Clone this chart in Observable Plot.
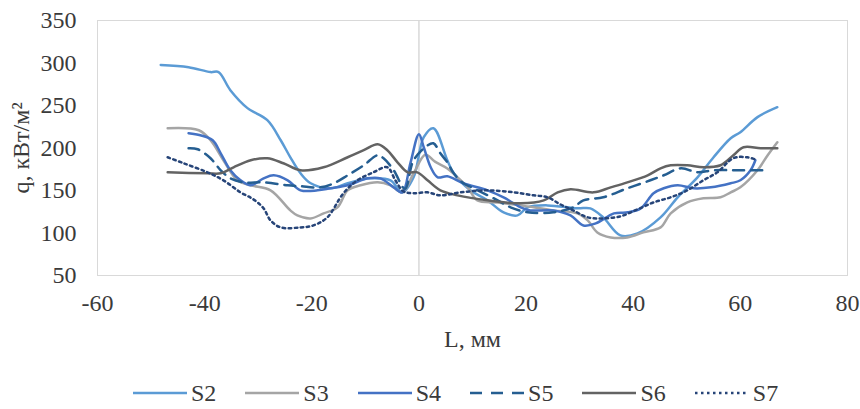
<!DOCTYPE html>
<html>
<head>
<meta charset="utf-8">
<script src="https://cdn.jsdelivr.net/npm/d3@7"></script>
<script src="https://cdn.jsdelivr.net/npm/@observablehq/plot@0.6"></script>
<style>
  body { margin: 0; background: #fff; font-family: "Liberation Serif", "Times New Roman", serif; }
  #legend { height: 49px; box-sizing: border-box; padding-top: 17px; padding-left: 133px; display: flex; align-items: center; font-size: 24px; color: #3a3a3a; }
  #legend .item { display: flex; align-items: center; margin-right: 29px; }
  #legend svg { margin-right: 4px; }
</style>
</head>
<body>
<div id="chart"></div>
<div id="legend"></div>
<script>
const xTicks = [-60, -40, -20, 0, 20, 40, 60, 80];
const yTicks = [50, 100, 150, 200, 250, 300, 350];
const seriesNames = ["S2", "S3", "S4", "S5", "S6", "S7"];
const seriesColors = ["#5B9BD5", "#A5A5A5", "#4472C4", "#255E91", "#636363", "#264478"];
const seriesDash = [null, null, null, "11,7", null, "2.5,3.5"];

const S2_L = [-48.2, -43.0, -38.9, -37.4, -35.2, -32.0, -28.3, -25.8, -24.0, -22.1, -20.2, -16.5, -13.3, -9.0, -5.3, -3.1, -1.0, 0.9, 2.7, 5.3, 6.5, 9.6, 12.8, 15.8, 18.4, 20.3, 24.0, 29.6, 32.0, 34.4, 37.6, 40.8, 45.1, 48.3, 52.0, 55.0, 58.2, 60.0, 63.2, 66.9];
const S2_q = [297.6, 295, 289.3, 289.3, 268, 246.9, 232.7, 209.1, 189, 170.2, 158.5, 152.6, 158.5, 164.3, 162, 147.8, 165.5, 212.7, 223.3, 185.6, 170.2, 150.2, 138.4, 124.3, 120.7, 130.2, 132.5, 129, 129, 118.4, 97.2, 99.5, 118.4, 142, 165.5, 189.1, 211.5, 218.6, 236.3, 248];

const S3_L = [-46.9, -41.1, -38.9, -36.5, -33.9, -31.4, -27.7, -24.0, -22.7, -20.2, -17.8, -15.2, -13.3, -10.9, -7.7, -5.3, -3.1, -1.0, 1.2, 3.0, 5.3, 7.2, 9.1, 10.9, 14.7, 19.0, 25.1, 29.6, 31.5, 33.3, 35.8, 38.9, 41.9, 45.1, 47.0, 50.1, 53.1, 56.3, 58.2, 60.0, 63.2, 65.1, 66.9];
const S3_q = [223.3, 220.9, 209.1, 185.6, 162, 156.1, 150.2, 126.6, 120.7, 117.2, 123.1, 130.2, 150.2, 156.1, 159.6, 156.1, 147.8, 170, 192, 184, 176, 165.5, 153.7, 138.4, 136, 132.5, 126.6, 123.1, 114.8, 100.7, 94.8, 94.8, 100.7, 106.6, 123.1, 136, 140.8, 142, 147.8, 153.7, 173.8, 191.5, 206.8];

const S4_L = [-43.0, -40.8, -38.5, -37.0, -35.2, -33.3, -31.4, -29.0, -27.1, -24.5, -22.1, -18.9, -16.5, -13.3, -9.6, -7.2, -4.7, -3.1, -1.6, 0.0, 0.9, 2.2, 3.5, 5.3, 8.3, 12.8, 15.8, 19.0, 20.8, 25.1, 28.3, 30.7, 33.0, 36.4, 39.0, 41.4, 43.8, 45.7, 48.3, 51.3, 54.5, 58.2, 60.0, 61.9, 62.8];
const S4_q = [217.4, 215, 209.1, 193.8, 173.8, 162, 156.1, 164.3, 167.9, 162, 150.2, 150.2, 152.6, 156.1, 164.3, 164.3, 153.7, 147.8, 182, 216.2, 200.9, 177.3, 165.5, 166.7, 158.5, 150.2, 141.9, 130.2, 126.6, 126.6, 120.7, 108.9, 111.3, 123.1, 124.3, 129, 146.7, 152.6, 156.1, 152.6, 153.7, 158.5, 162, 173.8, 185.6];

const S5_L = [-43.0, -41.3, -38.9, -37.0, -35.2, -32.7, -29.0, -24.5, -22.1, -18.4, -15.9, -13.3, -10.3, -7.7, -6.6, -4.7, -2.6, -1.0, 1.6, 2.7, 4.0, 5.3, 6.5, 8.3, 10.2, 14.7, 17.1, 20.3, 25.1, 28.8, 30.7, 34.4, 38.9, 43.2, 45.7, 48.9, 52.0, 55.0, 59.5, 65.3];
const S5_q = [199.7, 198.5, 187.9, 173.8, 164.3, 159.6, 159.6, 156.1, 155, 153.7, 158.5, 167.9, 179.7, 191.5, 187.9, 173.8, 152, 185.6, 203, 205.6, 193.8, 183.2, 170.2, 158.5, 152.6, 138.4, 130.2, 124.3, 124.3, 130.2, 138.4, 142, 152.6, 162, 167.9, 176.1, 171.4, 173.8, 173.8, 173.8];

const S6_L = [-46.9, -39.5, -37.0, -34.6, -31.4, -28.3, -25.3, -22.1, -17.8, -13.3, -10.3, -7.7, -5.9, -4.0, -2.1, -0.3, 1.6, 4.0, 7.2, 12.8, 19.0, 23.3, 25.9, 28.3, 32.6, 35.8, 38.9, 42.7, 45.1, 47.0, 50.1, 53.1, 56.3, 58.7, 60.6, 63.8, 66.9];
const S6_q = [171.4, 170.2, 170.2, 177.3, 185.6, 187.9, 182, 173.8, 177.3, 189.1, 197.4, 204.4, 197.4, 183.2, 171.4, 171.4, 162, 150.2, 144.3, 138.4, 134.9, 138.4, 147.8, 151.4, 147.8, 153.7, 159.6, 167.9, 176.1, 179.7, 179.7, 177.3, 179.7, 191.5, 200.9, 199.7, 199.7];

const S7_L = [-46.9, -43.9, -39.5, -36.5, -33.3, -30.9, -29.0, -27.7, -25.8, -22.1, -19.7, -17.1, -14.1, -11.5, -8.5, -5.9, -4.4, -2.9, -1.0, 1.6, 4.0, 7.8, 12.8, 17.7, 21.4, 24.0, 26.4, 28.8, 31.5, 34.4, 37.6, 40.8, 43.8, 47.0, 50.1, 53.1, 55.7, 58.7, 61.3, 63.2];
const S7_q = [189.1, 182, 171.4, 162, 147.8, 139.6, 129, 114.8, 106.6, 106.6, 108.9, 118.4, 146.7, 162, 171.4, 177.3, 162, 149, 146.7, 147.8, 144.3, 147.8, 150.2, 147.8, 144.3, 142, 133.7, 126.6, 118.4, 117.2, 119.6, 127.8, 136, 142, 150.2, 162, 171.4, 188, 189.1, 185.6];

const seriesL = [S2_L, S3_L, S4_L, S5_L, S6_L, S7_L];
const seriesQ = [S2_q, S3_q, S4_q, S5_q, S6_q, S7_q];

const lineMarks = seriesNames.map((name, i) => {
  const rows = seriesL[i].map((L, j) => ({ L, q: seriesQ[i][j], s: name }));
  const opts = { x: "L", y: "q", stroke: seriesColors[i], strokeWidth: 2.5, curve: "catmull-rom" };
  if (seriesDash[i]) opts.strokeDasharray = seriesDash[i];
  return Plot.line(rows, opts);
});

const chart = Plot.plot({
  width: 860,
  height: 360,
  marginTop: 20,
  marginRight: 13,
  marginBottom: 85,
  marginLeft: 97,
  style: { fontFamily: "Liberation Serif, Times New Roman, serif", fontSize: "24px", color: "#3a3a3a", background: "#fff" },
  x: { domain: [-60, 80] },
  y: { domain: [50, 350] },
  marks: [
    Plot.frame({ stroke: "#d9d9d9", strokeWidth: 1 }),
    Plot.ruleX([0], { stroke: "#d9d9d9", strokeWidth: 1.5 }),
    Plot.axisX({ ticks: xTicks, tickSize: 0, tickPadding: 18, tickFormat: d => String(d), label: "L, мм", labelAnchor: "center", labelArrow: "none", labelOffset: 71 }),
    Plot.axisY({ ticks: yTicks, tickSize: 0, tickPadding: 21, tickFormat: d => String(d), label: "q, кВт/м²", labelAnchor: "center", labelArrow: "none", labelOffset: 86 }),
    ...lineMarks
  ]
});
document.getElementById("chart").appendChild(chart);

const legend = document.getElementById("legend");
seriesNames.forEach((name, i) => {
  const item = document.createElement("div");
  item.className = "item";
  const ns = "http://www.w3.org/2000/svg";
  const svg = document.createElementNS(ns, "svg");
  svg.setAttribute("width", 54);
  svg.setAttribute("height", 10);
  const ln = document.createElementNS(ns, "line");
  ln.setAttribute("x1", 0); ln.setAttribute("x2", 54);
  ln.setAttribute("y1", 5); ln.setAttribute("y2", 5);
  ln.setAttribute("stroke", seriesColors[i]);
  ln.setAttribute("stroke-width", 2.5);
  if (seriesDash[i]) ln.setAttribute("stroke-dasharray", i === 3 ? "12,9" : "2.5,3.5");
  svg.appendChild(ln);
  const label = document.createElement("span");
  label.textContent = name;
  item.appendChild(svg);
  item.appendChild(label);
  legend.appendChild(item);
});
</script>
</body>
</html>
